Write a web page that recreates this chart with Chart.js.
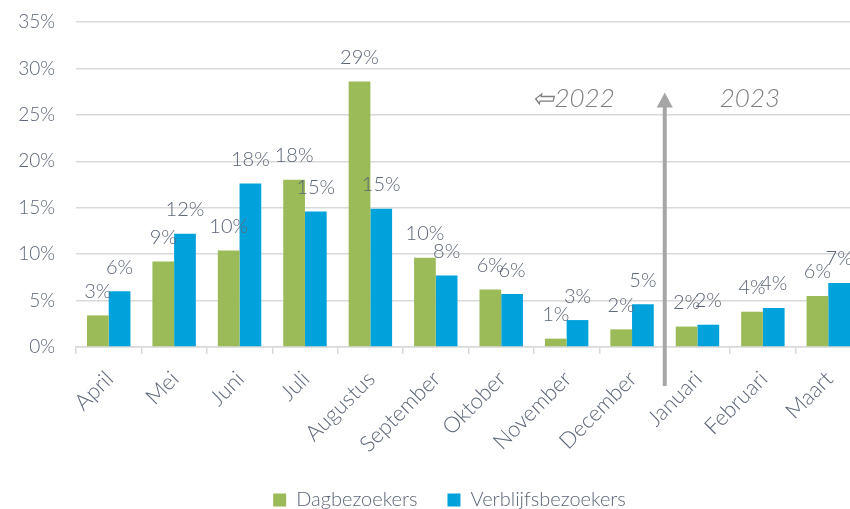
<!DOCTYPE html>
<html>
<head>
<meta charset="utf-8">
<script src="https://cdn.jsdelivr.net/npm/chart.js@4/dist/chart.umd.min.js"></script>
<style>
  html, body { margin: 0; padding: 0; background: #ffffff; overflow: hidden; width: 850px; height: 509px; }
  #wrap { position: absolute; left: 0; top: 0; }
</style>
</head>
<body>
<div id="wrap"><canvas id="c" width="899" height="509"></canvas></div>
<script>
const months = ['April','Mei','Juni','Juli','Augustus','September','Oktober','November','December','Januari','Februari','Maart'];
const dagbezoekers = [3.4, 9.2, 10.4, 18.0, 28.6, 9.6, 6.2, 0.9, 1.9, 2.2, 3.8, 5.5];
const verblijfsbezoekers = [6.0, 12.2, 17.6, 14.6, 14.9, 7.7, 5.7, 2.9, 4.6, 2.4, 4.2, 6.9];
const seriesNames = ['Dagbezoekers', 'Verblijfsbezoekers'];
const yearLabels = ['\u21E62022', '2023'];
const yearSplit = 8.5;      // boundary between December and Januari
const yearTextValue = 26.7; // vertical level of year labels (%)
const arrowTopValue = 27.4;
const arrowBottomValue = -4.2;

const FONT = 'Lato, "Open Sans", "Noto Sans", sans-serif';
const TEXT = '#5b6679';

const dataLabels = {
  id: 'dataLabels',
  afterDatasetsDraw(chart) {
    const ctx = chart.ctx;
    ctx.save();
    ctx.font = '300 20px ' + FONT;
    ctx.fillStyle = TEXT;
    ctx.textAlign = 'center';
    ctx.textBaseline = 'middle';
    chart.data.datasets.forEach((ds, i) => {
      const meta = chart.getDatasetMeta(i);
      meta.data.forEach((el, j) => {
        ctx.fillText(Math.round(ds.data[j]) + '%', el.x, el.y - 24);
      });
    });
    ctx.restore();
  }
};

const yearMarker = {
  id: 'yearMarker',
  afterDraw(chart) {
    const ctx = chart.ctx;
    const xs = chart.scales.x, ys = chart.scales.y;
    const x = xs.getPixelForValue(yearSplit);
    const yTop = ys.getPixelForValue(arrowTopValue);
    const yBot = ys.getPixelForValue(arrowBottomValue);
    ctx.save();
    ctx.strokeStyle = '#a6a6a6';
    ctx.fillStyle = '#a6a6a6';
    ctx.lineWidth = 4;
    ctx.beginPath();
    ctx.moveTo(x, yBot);
    ctx.lineTo(x, yTop + 12);
    ctx.stroke();
    ctx.beginPath();
    ctx.moveTo(x, yTop);
    ctx.lineTo(x - 8, yTop + 15);
    ctx.lineTo(x + 8, yTop + 15);
    ctx.closePath();
    ctx.fill();

    const ty = ys.getPixelForValue(yearTextValue);
    ctx.fillStyle = '#7f7f7f';
    ctx.textBaseline = 'middle';
    ctx.font = 'italic 300 26px ' + FONT;
    ctx.textAlign = 'right';
    ctx.fillText(yearLabels[0], x - 50, ty);
    ctx.textAlign = 'left';
    ctx.fillText(yearLabels[1], x + 55, ty);
    ctx.restore();
  }
};

new Chart(document.getElementById('c'), {
  type: 'bar',
  data: {
    labels: months,
    datasets: [
      { label: seriesNames[0], data: dagbezoekers, backgroundColor: '#9bbb59', categoryPercentage: 0.664, barPercentage: 1.0, yAxisID: 'y' },
      { label: seriesNames[1], data: verblijfsbezoekers, backgroundColor: '#00a2dc', categoryPercentage: 0.664, barPercentage: 1.0, yAxisID: 'y' }
    ]
  },
  options: {
    responsive: false,
    animation: false,
    devicePixelRatio: 1,
    layout: { padding: { top: 22, left: 0, right: 0, bottom: -11 } },
    plugins: {
      legend: {
        position: 'bottom',
        labels: {
          boxWidth: 13, boxHeight: 13, padding: 30,
          color: TEXT,
          font: { family: FONT, size: 20, weight: '300' }
        }
      },
      tooltip: { enabled: false }
    },
    scales: {
      x: {
        grid: { offset: true, drawOnChartArea: false, drawTicks: true, tickLength: 7, color: '#d9d9d9', lineWidth: 1.5 },
        border: { display: true, color: '#d9d9d9', width: 1.5 },
        ticks: { maxRotation: 45, minRotation: 45, color: TEXT, padding: 12, labelOffset: 1, font: { family: FONT, size: 22, weight: '300' } },
        afterFit(s) { s.height = 113; }
      },
      y: {
        min: 0, max: 35,
        grid: { color: '#d9d9d9', lineWidth: 1.5, drawTicks: false },
        border: { display: false },
        ticks: { stepSize: 5, color: TEXT, padding: 21, callback: v => v + '%', font: { family: FONT, size: 19, weight: '300' } },
        afterFit(s) { s.width = 76; s.paddingTop = 0; s.paddingBottom = 0; }
      },
      y2: {
        position: 'right',
        display: true,
        grid: { display: false, drawTicks: false },
        border: { display: false },
        ticks: { display: false },
        afterFit(s) { s.width = 38; s.paddingTop = 0; s.paddingBottom = 0; }
      }
    }
  },
  plugins: [dataLabels, yearMarker]
});
</script>
</body>
</html>
